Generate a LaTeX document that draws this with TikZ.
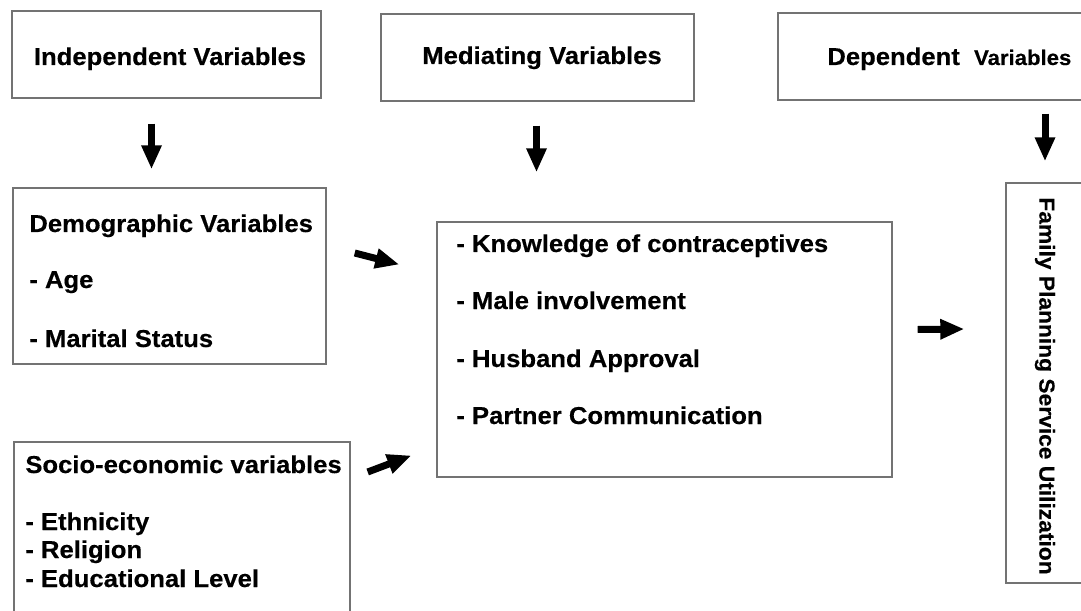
\documentclass[tikz,border=0pt]{standalone}
\usepackage{fontspec}
\setmainfont{Liberation Sans}[FakeStretch=1.05, BoldFeatures={FakeBold=0.4}]
\usetikzlibrary{arrows.meta,calc,fit,positioning}
\tikzset{
    x=0.02cm, y=-0.02cm,
    box/.style = {draw=black!55, line width=0.8pt, inner sep=0pt},
    txt/.style = {inner sep=0pt, anchor=base west, font=\fontsize{13.9}{16}\selectfont\bfseries},
    title/.style = {inner sep=0pt, anchor=base, font=\fontsize{13.9}{16}\selectfont\bfseries},
    fat/.style = {line width=0.14cm, -{Triangle[length=0.48cm,width=0.38cm]}}
}

\begin{document}
\begin{tikzpicture}
        \useasboundingbox (0,0) rectangle (1081,611);
        \clip (0,0) rectangle (1081,611);

        % top row
        \node[box, fit={(12,11) (321,98)}] (indep) {};
        \node[box, fit={(381,14) (694,101)}] (med) {};
        \node[box, fit={(778,13) (1100,100)}] (dep) {};
        \node[title] (indeptxt) at (170,65) {Independent Variables};
        \node[title] (medtxt) at (542,64) {Mediating Variables};
        \node[txt] (deptxt) at (827,65) {Dependent~ {\fontsize{12}{14}\selectfont Variables}};

        % left column
        \node[box, fit={(13,188) (326,364)}] (demo) {};
        \node[txt] (d1) at (29,232) {Demographic Variables};
        \node[txt] (d2) at (29,288) {- Age};
        \node[txt] (d3) at (29,347) {- Marital Status};

        \node[box, fit={(14,442) (350,630)}] (socio) {};
        \node[txt] (s1) at (25,473) {Socio-economic variables};
        \node[txt] (s2) at (25,530) {- Ethnicity};
        \node[txt] (s3) at (25,558) {- Religion};
        \node[txt] (s4) at (25,587) {- Educational Level};

        % middle
        \node[box, fit={(437,222) (892,477)}] (cont) {};
        \node[txt] (c1) at (456,252) {- Knowledge of contraceptives};
        \node[txt] (c2) at (456,309) {- Male involvement};
        \node[txt] (c3) at (456,367) {- Husband Approval};
        \node[txt] (c4) at (456,424) {- Partner Communication};

        % right
        \node[box, fit={(1006,183) (1100,583)}] (fam) {};
        \node[rotate=-90, inner sep=0pt, font=\fontsize{12.35}{14}\selectfont\bfseries] (famtxt) at (1045,386) {Family Planning Service Utilization};

        \draw[fat] ($(indep.south)+(-15,25)$) -- ($(demo.north)+(-18,-18)$);
        \draw[fat] ($(med.south)+(-1,24)$) -- ($(cont.north)+(-128,-49)$);
        \draw[fat] ($(dep.south)+(106,13)$) -- ($(fam.north)+(-8,-21)$);

        \draw[fat] ($(demo.east)+(28,-23)$) -- ($(cont.west)+(-37,-85)$);
        \draw[fat] ($(socio.east)+(17,-64)$) -- ($(cont.west)+(-25,106)$);
        \draw[fat] ($(cont.east)+(25,-20)$) -- ($(fam.west)+(-41,-54)$);
      \end{tikzpicture}
\end{document}
